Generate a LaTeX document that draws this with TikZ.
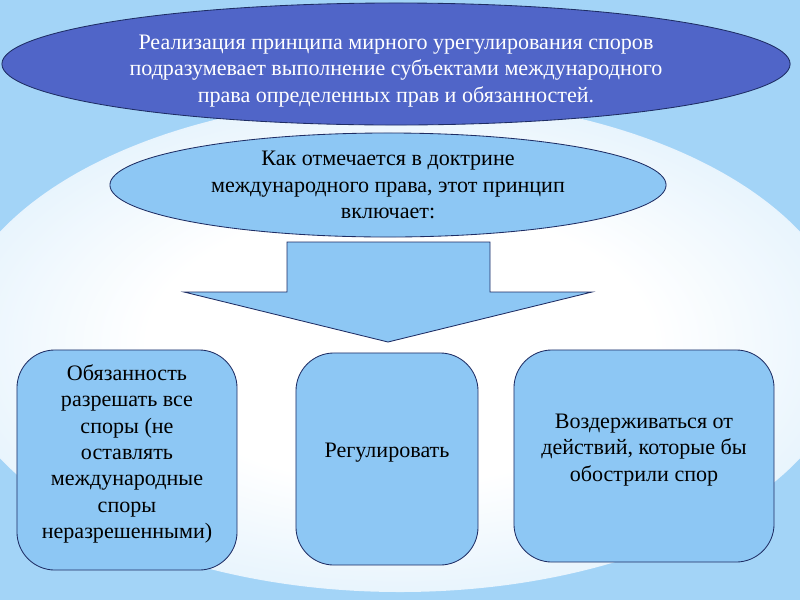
\documentclass[tikz,border=0pt]{standalone}
\usepackage{fontspec}
\setmainfont{Liberation Serif}
\usetikzlibrary{shapes.geometric,positioning}

\definecolor{fondo}{RGB}{163,212,247}
\definecolor{ovaleblu}{RGB}{80,101,200}
\definecolor{celeste}{RGB}{141,199,244}
\definecolor{bordo}{RGB}{30,45,100}
\pgfdeclareradialshading{alone}{\pgfpoint{0bp}{0bp}}{color(0bp)=(white); color(14bp)=(white); color(34bp)=(white!55!fondo); color(47bp)=(white!25!fondo); color(50bp)=(fondo)}

\tikzset{
  testo/.style={font=\fontsize{15.7}{18.8}\selectfont},
  ovale/.style={ellipse, draw=bordo, line width=0.6pt, inner sep=0pt, align=center, testo},
  riquadro/.style={draw=bordo, line width=0.6pt, fill=celeste, rounded corners=0.95cm, inner sep=0pt, align=center, testo, text depth=12pt},
}

\begin{document}
\begin{tikzpicture}[x=0.025cm,y=-0.025cm]
	\useasboundingbox (0,0) rectangle (800,600);
	\fill[fondo] (0,0) rectangle (800,600); % sfondo
	\shade[shading=alone] (400,345) ellipse (450 and 247); % alone chiaro

	% Ovali in alto
	\node[ovale, fill=ovaleblu, text=white, text height=58pt, minimum width=19.7cm, minimum height=3.05cm] (principio) at (396,64)
		{Реализация принципа мирного урегулирования споров\\подразумевает выполнение субъектами международного\\права определенных прав и обязанностей.};
	\node[ovale, fill=celeste, minimum width=13.9cm, minimum height=2.6cm] (dottrina) at (388,185)
		{Как отмечается в доктрине\\международного права, этот принцип\\включает:};

	% Freccia verso il basso
	\draw[bordo, line width=0.6pt, fill=celeste] (287,242) -- (490,242) -- (490,292) -- (592,292) -- (388,342) -- (184,292) -- (287,292) -- cycle;

	% Riquadri in basso
	\node[riquadro, minimum width=5.5cm, minimum height=5.5cm] (obbligo) at (127,460)
		{Обязанность\\разрешать все\\споры (не\\оставлять\\международные\\споры\\неразрешенными)};
	\node[riquadro, minimum width=4.55cm, minimum height=5.3cm] (regolare) at (387,459)
		{Регулировать};
	\node[riquadro, minimum width=6.5cm, minimum height=5.3cm] (astenersi) at (644,456)
		{Воздерживаться от\\действий, которые бы\\обострили спор};
\end{tikzpicture}
\end{document}
